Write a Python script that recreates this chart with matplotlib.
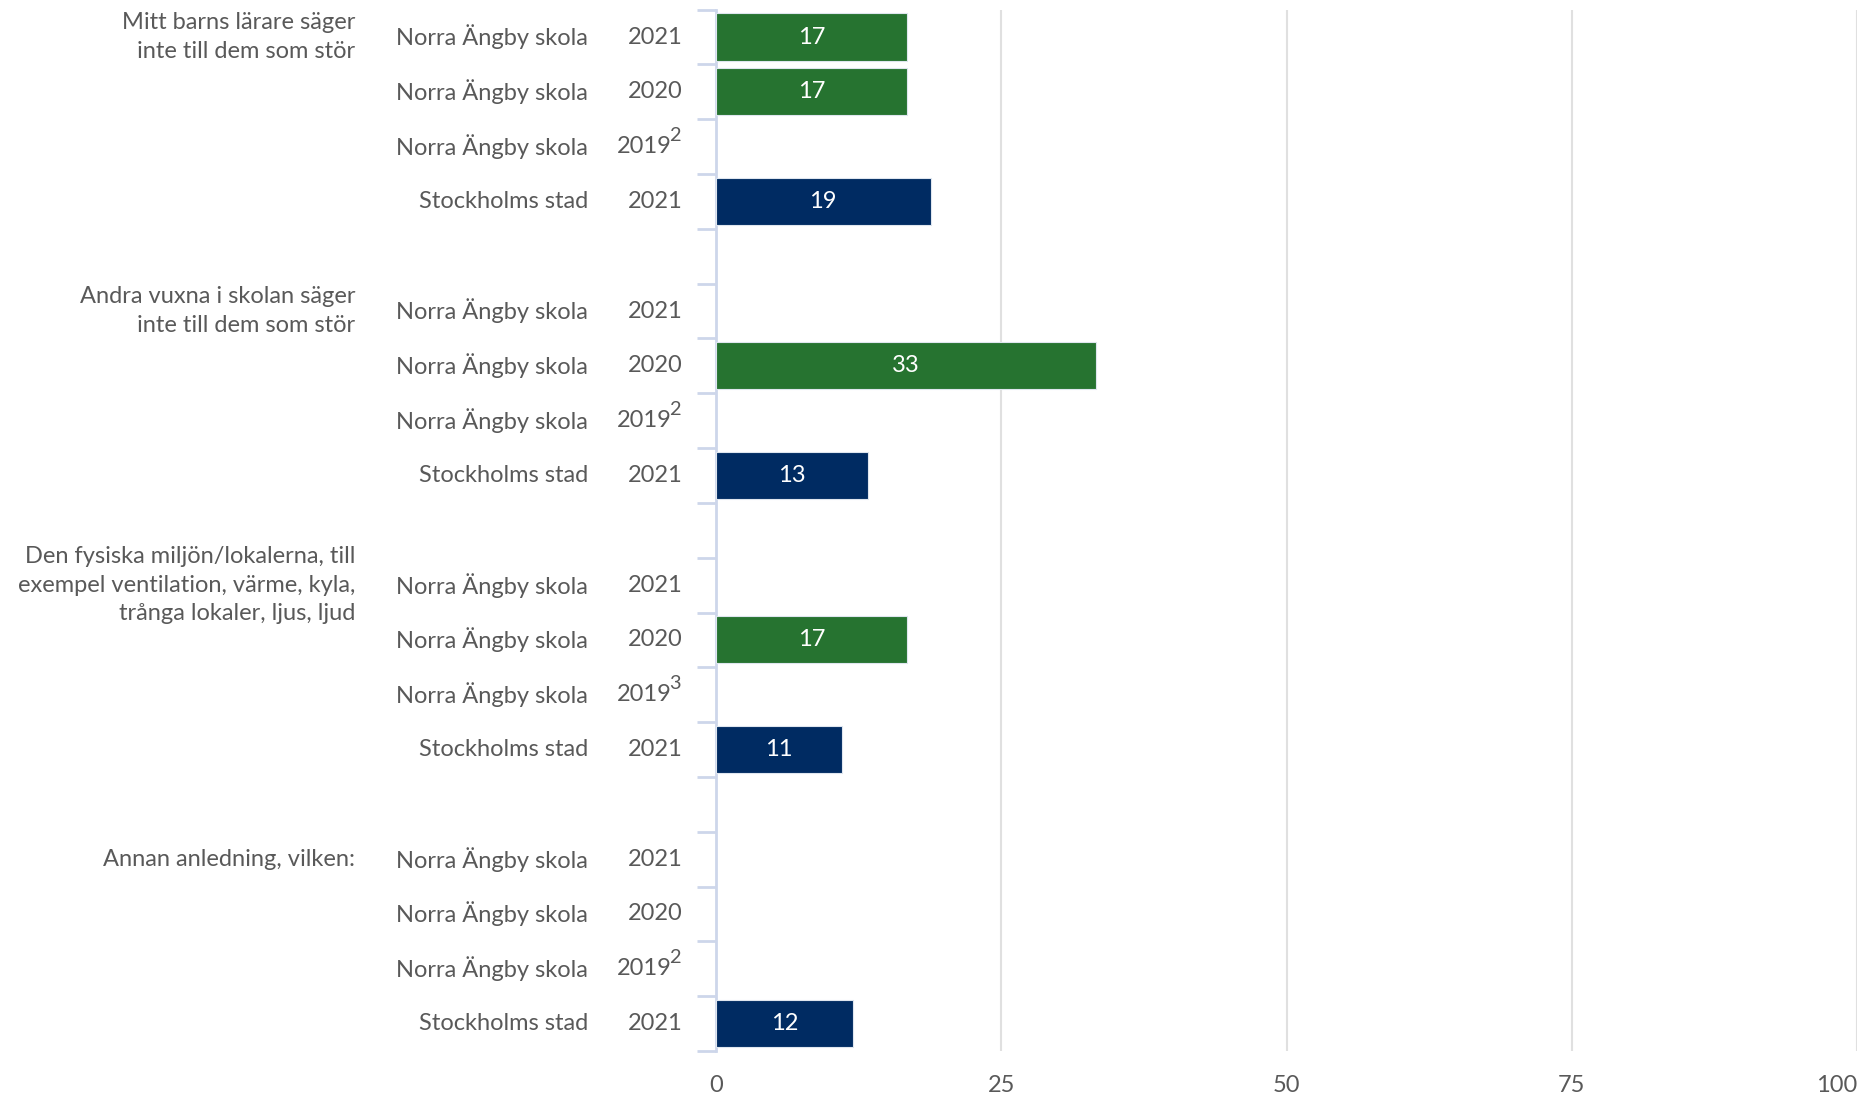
import matplotlib
matplotlib.use("Agg")
import matplotlib.pyplot as plt
import matplotlib.transforms as mtransforms
from matplotlib.ticker import FixedLocator

plt.rcParams['font.family'] = ['Lato', 'DejaVu Sans']

categories = [
    "Mitt barns lärare säger\ninte till dem som stör",
    "Andra vuxna i skolan säger\ninte till dem som stör",
    "Den fysiska miljön/lokalerna, till\nexempel ventilation, värme, kyla,\ntrånga lokaler, ljus, ljud",
    "Annan anledning, vilken:",
]
units = ["Norra Ängby skola", "Norra Ängby skola", "Norra Ängby skola", "Stockholms stad"]
years = ["2021", "2020", "2019", "2021"]
footnotes = [
    [None, None, "2", None],
    [None, None, "2", None],
    [None, None, "3", None],
    [None, None, "2", None],
]
values = [
    [16.7, 16.7, None, 18.8],
    [None, 33.3, None, 13.3],
    [None, 16.7, None, 11.0],
    [None, None, None, 12.0],
]
labels = [
    ["17", "17", None, "19"],
    [None, "33", None, "13"],
    [None, "17", None, "11"],
    [None, None, None, "12"],
]
xticks = [0, 25, 50, 75, 100]
xticklabels = ["0", "25", "50", "75", "100"]

GREEN = "#267330"
NAVY = "#002B62"
TEXT = "#595959"
bar_colors = [GREEN, GREEN, GREEN, NAVY]
FS = 17

W, H = 1875, 1096
fig = plt.figure(figsize=(W / 100, H / 100), dpi=100)
ax = fig.add_axes([716 / W, 1 - 1051 / H, (1857 - 716) / W, (1051 - 9.6) / H])

rows_per_group = 5
minor_pos = []
for g, cat in enumerate(categories):
    start = g * rows_per_group
    for i in range(4):
        y = start + i
        v = values[g][i]
        if v is not None:
            ax.barh(y, v, height=0.86, color=bar_colors[i], edgecolor="#dfe6ef",
                    linewidth=0.8, zorder=3)
            ax.text(v / 2, y, labels[g][i], ha="center", va="center",
                    color="white", fontsize=FS, zorder=4)
    minor_pos += [start - 0.5 + k for k in range(5)]

ax.set_xlim(0, 100)
ax.set_ylim(18.5, -0.5)
ax.set_xticks(xticks)
ax.set_xticklabels(xticklabels)
ax.tick_params(axis="x", length=0, pad=17, labelsize=FS, labelcolor=TEXT)
ax.get_xticklabels()[-1].set_ha("right")
ax.set_yticks([])
ax.yaxis.set_minor_locator(FixedLocator(minor_pos))
ax.tick_params(axis="y", which="minor", length=14, width=2, color="#cdd6ea")
ax.grid(axis="x", color="#e0e0e0", linewidth=1.5, zorder=0)
for s in ["top", "right", "bottom"]:
    ax.spines[s].set_visible(False)
ax.spines["left"].set_color("#cdd6ea")
ax.spines["left"].set_linewidth(2)

trans = mtransforms.blended_transform_factory(fig.transFigure, ax.transData)
for g, cat in enumerate(categories):
    start = g * rows_per_group
    ax.text(355 / W, start, cat, transform=trans, ha="right", va="center",
            fontsize=FS, color=TEXT, linespacing=1.42)
    for i in range(4):
        y = start + i
        ax.text(588 / W, y, units[i], transform=trans, ha="right", va="center",
                fontsize=FS, color=TEXT)
        fn = footnotes[g][i]
        if fn is None:
            ax.text(683 / W, y, years[i], transform=trans, ha="right", va="center",
                    fontsize=FS, color=TEXT)
        else:
            ax.text(672 / W, y, years[i], transform=trans, ha="right", va="center",
                    fontsize=FS, color=TEXT)
            sup_trans = trans + mtransforms.ScaledTranslation(0, 8 / 72, fig.dpi_scale_trans)
            ax.text(669 / W, y, fn, transform=sup_trans, ha="left", va="center",
                    fontsize=FS * 0.85, color=TEXT)

fig.savefig("out.png", dpi=100)
